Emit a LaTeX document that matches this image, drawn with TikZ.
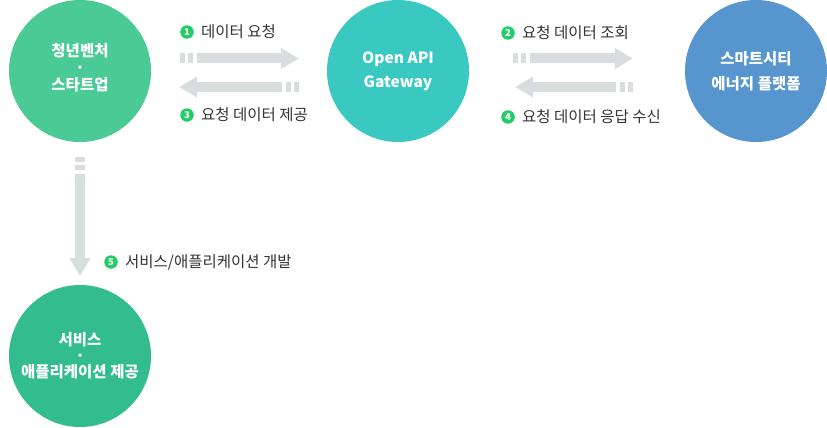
\documentclass[tikz,border=0pt]{standalone}
\usepackage{fontspec}
\setmainfont{Noto Sans CJK KR}
\definecolor{ventureGreen}{RGB}{74,203,150}
\definecolor{gatewayTeal}{RGB}{58,201,192}
\definecolor{cityBlue}{RGB}{86,149,205}
\definecolor{serviceGreen}{RGB}{51,189,143}
\definecolor{stepGreen}{RGB}{34,204,102}
\definecolor{arrowGray}{RGB}{217,221,221}
\definecolor{labelGray}{RGB}{51,51,51}
\usetikzlibrary{arrows.meta,positioning}

\begin{document}
\begin{tikzpicture}[
  x=1pt, y=-1pt,
  hub/.style={
    circle, minimum size=142pt, inner sep=0pt, text=white,
    align=center, font=\fontsize{15.5}{17}\selectfont\bfseries
  },
  badge/.style={
    circle, fill=stepGreen, text=white, minimum size=13.5pt, inner sep=0pt,
    font=\fontsize{9.5}{9.5}\selectfont\bfseries
  },
  caption/.style={font=\fontsize{15.5}{17}\selectfont, text=labelGray, inner sep=0pt},
  flow/.style={
    draw=arrowGray, line width=10pt,
    dash pattern=on 5pt off 3pt on 5pt off 4pt on 400pt,
    -{Triangle[length=18pt,width=20pt]}
  }
]
  \useasboundingbox (0,0) rectangle (827,428);

  \node[hub, fill=ventureGreen] (startup) at (80,71) {청년벤처\\·\\스타트업\\[-9pt]\mbox{}};
  \node[hub, fill=gatewayTeal] (gateway) at (398,71) {Open API\\[7pt]Gateway};
  \node[hub, fill=cityBlue] (platform) at (756,71) {스마트시티\\[8pt]에너지 플랫폼};
  \node[hub, fill=serviceGreen] (service) at (80,356) {서비스\\[-1pt]·\\[-1pt]애플리케이션 제공};

  \node[badge] (n1) at (187,32) {1};
  \node[caption, right=7pt of n1] (t1) {데이터 요청};
  \node[badge] (n2) at (508,33) {2};
  \node[caption, right=7pt of n2] (t2) {요청 데이터 조회};
  \node[badge] (n3) at (187,115) {3};
  \node[caption, right=7pt of n3] (t3) {요청 데이터 제공};
  \node[badge] (n4) at (508,117) {4};
  \node[caption, right=7pt of n4] (t4) {요청 데이터 응답 수신};
  \node[badge] (n5) at (111,262) {5};
  \node[caption, right=7pt of n5] (t5) {서비스/애플리케이션 개발};

  \draw[flow] ([xshift=29pt,yshift=12.5pt]startup.east) -- ([xshift=-28pt,yshift=12.5pt]gateway.west);
  \draw[flow] ([xshift=-28pt,yshift=-16pt]gateway.west) -- ([xshift=28pt,yshift=-16pt]startup.east);
  \draw[flow] ([xshift=44pt,yshift=12.5pt]gateway.east) -- ([xshift=-52pt,yshift=12.5pt]platform.west);
  \draw[flow] ([xshift=-52pt,yshift=-16pt]platform.west) -- ([xshift=46pt,yshift=-16pt]gateway.east);
  \draw[flow] ([yshift=-15pt]startup.south) -- ([yshift=9pt]service.north);
\end{tikzpicture}
\end{document}
